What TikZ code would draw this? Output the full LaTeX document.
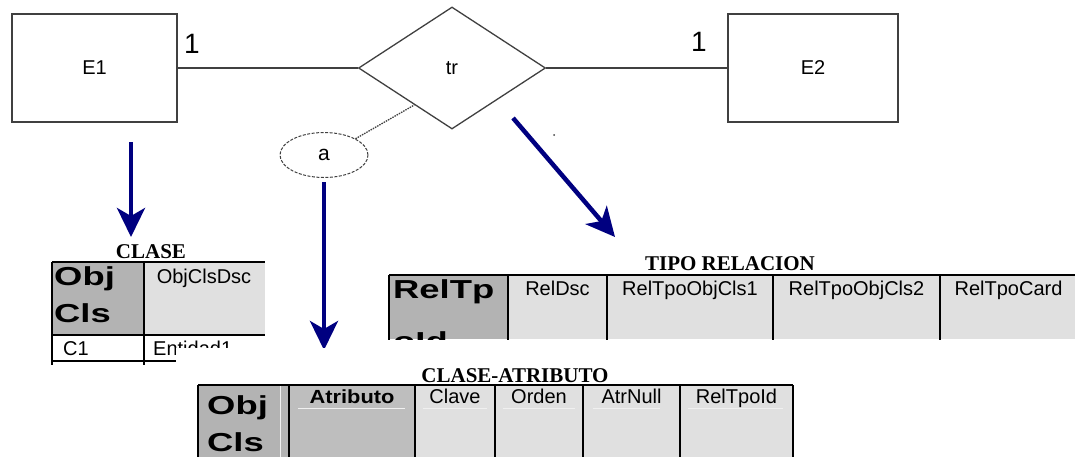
\documentclass[tikz,border=0pt]{standalone}
\usepackage{fontspec}
\setmainfont{Liberation Sans}
\newfontfamily\keyfont{Liberation Sans}[FakeStretch=1.4]
\newfontfamily\headfont{Liberation Sans}[FakeStretch=1.15]
\newfontfamily\titlefont{Liberation Serif}
\usetikzlibrary{arrows.meta,calc,shapes.geometric}
\definecolor{Navy}{HTML}{000080}
\definecolor{Ink}{HTML}{404040}
\definecolor{KeyGray}{HTML}{B3B3B3}
\definecolor{AttrGray}{HTML}{BEBEBE}
\definecolor{CellGray}{HTML}{E0E0E0}
\definecolor{RuleGray}{HTML}{F0F0F0}

\begin{document}
\begin{tikzpicture}[>=Stealth, x=1pt, y=-1pt,
    entity/.style={draw=Ink, line width=1.3pt, minimum width=165pt, minimum height=108pt, inner sep=0pt, font=\fontsize{20}{24}\selectfont},
    relation/.style={diamond, draw=Ink, line width=1.3pt, minimum width=187pt, minimum height=122pt, inner sep=0pt, font=\fontsize{20}{24}\selectfont},
    attrib/.style={ellipse, draw=Ink, dash pattern=on 3pt off 1.5pt, line width=1pt, minimum width=88pt, minimum height=45pt, inner sep=0pt, font=\fontsize{21}{24}\selectfont},
    card/.style={inner sep=0pt, font=\fontsize{28}{32}\selectfont},
    toTable/.style={Navy, line width=4.5pt, -{Stealth[length=29pt, width=28pt, inset=8pt]}},
    title/.style={anchor=base, inner sep=0pt, font=\titlefont\bfseries\fontsize{21}{24}\selectfont},
    grid/.style={black, line width=2pt},
    cell/.style={anchor=base, inner sep=0pt, font=\fontsize{20}{24}\selectfont},
    key/.style={anchor=north west, align=left, inner sep=0pt, font=\keyfont\bfseries\fontsize{26}{37}\selectfont}]
    \useasboundingbox (0,0) rectangle (1075,456);

    % ER diagram
    \node[entity] (E1) at (94.5,68) {E1};
    \node[entity, minimum width=170pt] (E2) at (813,68) {E2};
    \node[relation] (tr) at (452,68) {tr};
    \draw[Ink, line width=1.3pt] (E1) -- (tr);
    \draw[Ink, line width=1.3pt] (tr) -- (E2);
    \node[card] (card1) at (192,44) {1};
    \node[card] (card2) at (699,42) {1};
    \node[attrib] (a) at (324,155) {a};
    \draw[Ink, line width=1.3pt, dash pattern=on 1.5pt off 1pt] (a.north east) -- ($(tr.west)!0.6!(tr.south)$);
    \fill[Ink] (554,135) circle (1pt);

    % arrows to the tables
    \coordinate (clsTop) at (131,142);
    \coordinate (clsTip) at (131,237);
    \coordinate (atrTip) at (324,350);
    \coordinate (relTop) at (513,118);
    \coordinate (relTip) at (615,237);
    \draw[toTable] (clsTop) -- (clsTip);
    \draw[toTable] ([yshift=-4pt]a.south) -- (atrTip);
    \draw[toTable] (relTop) -- (relTip);

    % CLASE
    \node[title] (clsTitle) at (151,258) {CLASE};
    \begin{scope}
      \clip (40,240) rectangle (300,364);
      \fill[KeyGray] (52,262) rectangle (144,335);
      \fill[CellGray] (144,262) rectangle (265,335);
      \draw[grid] (52,262) -- (265,262);
      \draw[grid] (52,335) -- (265,335);
      \draw[grid] (52,262) -- (52,370);
      \draw[grid] (144,262) -- (144,370);
      \draw[grid] (52,361) -- (178,361);
      \node[key] (clsKey) at (54,266) {Obj\\Cls};
      \node[cell] (clsDsc) at (204,283) {ObjClsDsc};
      \node[cell, anchor=base west] (clsRow) at (63,355) {C1};
      \node[cell, anchor=base west] (clsEnt) at (153,355) {Entidad1};
    \end{scope}
    \fill[white] (176,348) rectangle (1075,456);

    % TIPO RELACION
    \node[title] (relTitle) at (730,270) {TIPO RELACION};
    \begin{scope}
      \clip (380,270) rectangle (1075,339);
      \fill[KeyGray] (389,275) rectangle (508,339);
      \fill[CellGray] (508,275) rectangle (1080,339);
      \draw[grid] (389,275) -- (1080,275);
      \draw[grid] (389,275) -- (389,345);
      \draw[grid] (508,275) -- (508,345);
      \draw[grid] (607,275) -- (607,345);
      \draw[grid] (773,275) -- (773,345);
      \draw[grid] (940,275) -- (940,345);
      \node[key, font=\keyfont\bfseries\fontsize{26}{52}\selectfont] (relKey) at (393,279) {RelTp\\oId};
      \node[cell] (relDsc) at (557.5,295) {RelDsc};
      \node[cell] (relCls1) at (690,295) {RelTpoObjCls1};
      \node[cell] (relCls2) at (856.5,295) {RelTpoObjCls2};
      \node[cell] (relCard) at (1008.5,295) {RelTpoCard};
    \end{scope}

    % CLASE-ATRIBUTO
    \node[title] (atrTitle) at (515,382) {CLASE-ATRIBUTO};
    \fill[KeyGray] (198,385) rectangle (289,460);
    \fill[AttrGray] (289,385) rectangle (415,460);
    \fill[CellGray] (415,385) rectangle (793,460);
    \draw[RuleGray, line width=1pt] (280,385) -- (280,460);
    \draw[RuleGray, line width=1pt] (298,408) -- (405,408);
    \draw[RuleGray, line width=1pt] (423,408) -- (487,408);
    \draw[RuleGray, line width=1pt] (503,408) -- (575,408);
    \draw[RuleGray, line width=1pt] (593,408) -- (660,408);
    \draw[RuleGray, line width=1pt] (688,408) -- (783,408);
    \draw[grid] (198,385) -- (793,385);
    \draw[grid] (198,385) -- (198,460);
    \draw[grid] (289,385) -- (289,460);
    \draw[grid] (415,385) -- (415,460);
    \draw[grid] (495,385) -- (495,460);
    \draw[grid] (583,385) -- (583,460);
    \draw[grid] (680,385) -- (680,460);
    \draw[grid] (793,385) -- (793,460);
    \node[key] (atrKey) at (207,395) {Obj\\Cls};
    \node[cell, font=\headfont\bfseries\fontsize{19}{22}\selectfont] (atrName) at (352,403) {Atributo};
    \node[cell] (atrKeyFlag) at (455,403) {Clave};
    \node[cell] (atrOrder) at (539,403) {Orden};
    \node[cell] (atrNull) at (631.5,403) {AtrNull};
    \node[cell] (atrRel) at (736.5,403) {RelTpoId};
  \end{tikzpicture}
\end{document}
